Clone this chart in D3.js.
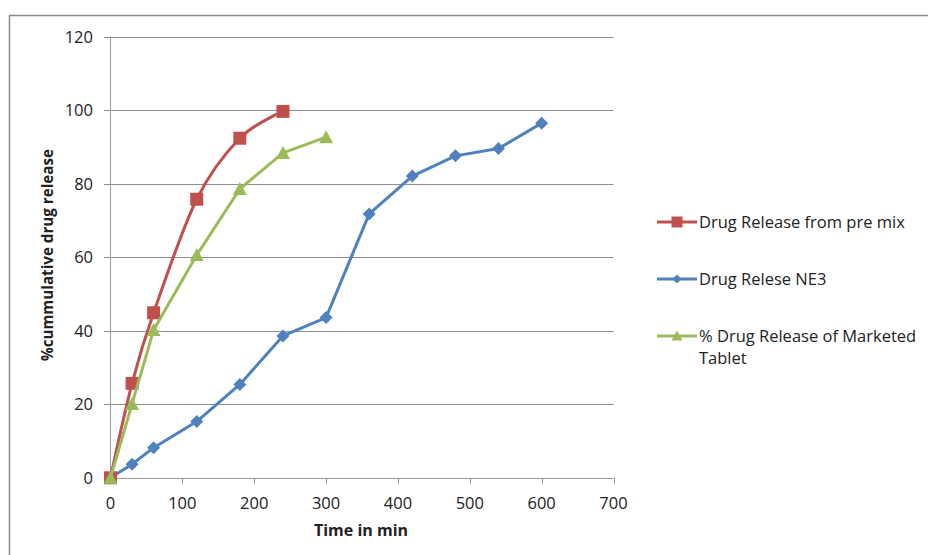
<!DOCTYPE html>
<html><head><meta charset="utf-8">
<script src="https://cdn.jsdelivr.net/npm/d3@7"></script>
<style>body{margin:0;background:#fff}svg{display:block}text{font-family:"Open Sans",sans-serif;fill:#222}</style>
</head><body><svg id="c" width="928" height="555"></svg>
<script>
const timePremix = [0, 30, 60, 120, 180, 240];
const premix = [0, 25.7, 44.9, 75.8, 92.4, 99.7];
const timeNE3 = [0, 30, 60, 120, 180, 240, 300, 360, 420, 480, 540, 600];
const ne3 = [0, 3.7, 8.2, 15.3, 25.4, 38.6, 43.6, 71.8, 82.1, 87.6, 89.6, 96.5];
const timeMarketed = [0, 30, 60, 120, 180, 240, 300];
const marketed = [0, 20.1, 40.2, 60.6, 78.6, 88.4, 92.7];
const xTicks = [0, 100, 200, 300, 400, 500, 600, 700];
const yTicks = [0, 20, 40, 60, 80, 100, 120];
const seriesNames = ["Drug Release from pre mix", "Drug Relese NE3", "% Drug Release of Marketed Tablet"];

const svg = d3.select("#c");
svg.append("rect").attr("x",9.5).attr("y",15.5).attr("width",1000).attr("height",600)
  .attr("fill","none").attr("stroke","#8c8c8c").attr("stroke-width",1.5);

const x = d3.scaleLinear().domain([0,700]).range([110.5,613.5]);
const y = d3.scaleLinear().domain([0,120]).range([477.8,36.8]);

svg.append("g").selectAll("line").data(yTicks).join("line")
  .attr("x1",104).attr("x2",613.5).attr("y1",d=>Math.round(y(d))+0.5).attr("y2",d=>Math.round(y(d))+0.5)
  .attr("stroke",d=>d===0?"#999":"#8e8e8e").attr("stroke-width",1);
svg.append("g").selectAll("text").data(yTicks).join("text")
  .attr("x",93).attr("y",d=>y(d)+6).attr("text-anchor","end").attr("font-size",16.5).text(d=>d);
svg.append("line").attr("x1",110.5).attr("x2",110.5).attr("y1",y(120)).attr("y2",y(0)).attr("stroke","#999");
svg.append("g").selectAll("line").data(xTicks).join("line")
  .attr("x1",d=>Math.round(x(d))+0.5).attr("x2",d=>Math.round(x(d))+0.5).attr("y1",y(0)).attr("y2",y(0)+6)
  .attr("stroke","#999");
svg.append("g").selectAll("text").data(xTicks).join("text")
  .attr("x",d=>x(d)).attr("y",509).attr("text-anchor","middle").attr("font-size",16.5).text(d=>d);

svg.append("text").attr("x",361).attr("y",536).attr("text-anchor","middle")
  .attr("font-size",16).attr("font-weight","bold").text("Time in min");
svg.append("text").attr("transform","translate(53,255) rotate(-90)").attr("text-anchor","middle")
  .attr("font-size",15.2).attr("font-weight","bold").text("%cummulative drug release");

const colors = ["#C0504D","#4F81BD","#9BBB59"];
const series = [
  {t:timePremix, v:premix, c:colors[0], m:"square", curve:d3.curveCatmullRom.alpha(0)},
  {t:timeNE3, v:ne3, c:colors[1], m:"diamond", curve:d3.curveLinear},
  {t:timeMarketed, v:marketed, c:colors[2], m:"triangle", curve:d3.curveLinear}
];
function marker(g, type, cx, cy, c, s) {
  if (type==="square") g.append("rect").attr("x",cx-s/2).attr("y",cy-s/2).attr("width",s).attr("height",s).attr("fill",c);
  else if (type==="diamond") g.append("path").attr("d",`M${cx},${cy-s/2}L${cx+s/2},${cy}L${cx},${cy+s/2}L${cx-s/2},${cy}Z`).attr("fill",c);
  else g.append("path").attr("d",`M${cx},${cy-s/2-1}L${cx+s/2+1},${cy+s/2}L${cx-s/2-1},${cy+s/2}Z`).attr("fill",c);
}
const sizes = {square:13, diamond:13, triangle:12};
[1,0,2].forEach(i=>{
  const s = series[i];
  const pts = s.t.map((t,k)=>[t,s.v[k]]);
  const line = d3.line().x(d=>x(d[0])).y(d=>y(d[1])).curve(s.curve);
  svg.append("path").attr("d",line(pts)).attr("fill","none").attr("stroke",s.c).attr("stroke-width",3).attr("stroke-linejoin","round");
  const g = svg.append("g");
  pts.forEach(p=>marker(g,s.m,x(p[0]),y(p[1]),s.c,sizes[s.m]));
});

const legY = [222, 279, 336];
series.forEach((s,i)=>{
  const g = svg.append("g");
  g.append("line").attr("x1",657).attr("x2",697).attr("y1",legY[i]).attr("y2",legY[i]).attr("stroke",s.c).attr("stroke-width",3);
  marker(g,s.m,677,legY[i],s.c,s.m==="square"?11:9);
});
svg.append("text").attr("x",699).attr("y",legY[0]+6).attr("font-size",16.5).text(seriesNames[0]);
svg.append("text").attr("x",699).attr("y",legY[1]+6).attr("font-size",16.5).text(seriesNames[1]);
const t3 = svg.append("text").attr("x",699).attr("y",legY[2]+6).attr("font-size",16.5);
t3.append("tspan").attr("x",699).text("% Drug Release of Marketed");
t3.append("tspan").attr("x",699).attr("dy",22).text("Tablet");
</script></body></html>
